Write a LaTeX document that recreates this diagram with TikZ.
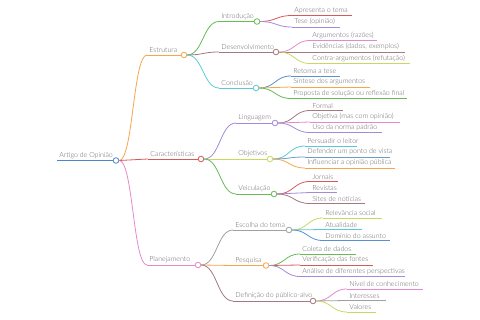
\documentclass[tikz,border=0pt]{standalone}
\usepackage{fontspec}
\setmainfont{Lato}[UprightFont=* Light]
\usepackage{tikz}
\usetikzlibrary{calc}
\definecolor{croot}{HTML}{4A86C8}
\definecolor{corange}{HTML}{F5A54A}
\definecolor{cred}{HTML}{D65A5A}
\definecolor{cpink}{HTML}{E38BC9}
\definecolor{cgreen}{HTML}{66BB55}
\definecolor{cmauve}{HTML}{A27A80}
\definecolor{ccyan}{HTML}{5BC8D8}
\definecolor{cpurple}{HTML}{A48AD8}
\definecolor{clime}{HTML}{C8D860}
\definecolor{cgrey}{HTML}{A0A0A0}
\definecolor{cblue}{HTML}{5A8FD0}
\definecolor{csteel}{HTML}{6A9CC8}
\definecolor{ctext}{HTML}{666666}

\begin{document}
\begin{tikzpicture}[
    x=1pt, y=-1pt,
    line width=0.8pt,
    lbl/.style={anchor=south west, inner sep=0pt, xshift=2pt, yshift=1.6pt,
        text=ctext, font=\fontsize{7}{7}\selectfont},
    dot/.style={circle, draw=#1, fill=white, line width=0.8pt,
        minimum size=5.6pt, inner sep=0pt},
    link/.style={to path={let \p1=(\tikztostart), \p2=(\tikztotarget) in
        .. controls ({(\x1+\x2)/2},\y1) and ({(\x1+\x2)/2},\y2) .. (\tikztotarget)}},
  ]
  \useasboundingbox (0,0) rectangle (480,320);
  % root
  \coordinate (root-s) at (57,160.5);
  \node[dot=croot] (root) at (116,160.5) {};
  \node[lbl] (root-t) at (root-s) {Artigo de Opinião};
  \draw[croot] (root-s) -- (root.west);
  % level 1
  \coordinate (estr-s) at (147,55);
  \node[dot=corange] (estr) at (184,55) {};
  \node[lbl] (estr-t) at (estr-s) {Estrutura};
  \draw[corange] (estr-s) -- (estr.west);
  \draw[corange, link] (root.east) to (estr-s);
  \coordinate (carac-s) at (148,159);
  \node[dot=cred] (carac) at (201,159) {};
  \node[lbl] (carac-t) at (carac-s) {Características};
  \draw[cred] (carac-s) -- (carac.west);
  \draw[cred, link] (root.east) to (carac-s);
  \coordinate (plan-s) at (147,265);
  \node[dot=cpink] (plan) at (198,265) {};
  \node[lbl] (plan-t) at (plan-s) {Planejamento};
  \draw[cpink] (plan-s) -- (plan.west);
  \draw[cpink, link] (root.east) to (plan-s);
  % Estrutura
  \coordinate (intro-s) at (219,21.5);
  \node[dot=cgreen] (intro) at (257,21.5) {};
  \node[lbl] (intro-t) at (intro-s) {Introdução};
  \draw[cgreen] (intro-s) -- (intro.west);
  \draw[cgreen, link] (estr.east) to (intro-s);
  \coordinate (desen-s) at (219,52);
  \node[dot=cmauve] (desen) at (276,52) {};
  \node[lbl] (desen-t) at (desen-s) {Desenvolvimento};
  \draw[cmauve] (desen-s) -- (desen.west);
  \draw[cmauve, link] (estr.east) to (desen-s);
  \coordinate (concl-s) at (219,88);
  \node[dot=ccyan] (concl) at (256,88) {};
  \node[lbl] (concl-t) at (concl-s) {Conclusão};
  \draw[ccyan] (concl-s) -- (concl.west);
  \draw[ccyan, link] (estr.east) to (concl-s);
  % Introducao
  \coordinate (tema-s) at (292,15.5); \coordinate (tema-e) at (352,15.5);
  \node[lbl] (tema) at (tema-s) {Apresenta o tema};
  \draw[cred] (tema-s) -- (tema-e);
  \draw[cred, link] (intro.east) to (tema-s);
  \coordinate (tese-s) at (292,27); \coordinate (tese-e) at (340,27);
  \node[lbl] (tese) at (tese-s) {Tese (opinião)};
  \draw[cpurple] (tese-s) -- (tese-e);
  \draw[cpurple, link] (intro.east) to (tese-s);
  % Desenvolvimento
  \coordinate (argu-s) at (310,40.5); \coordinate (argu-e) at (377,40.5);
  \node[lbl] (argu) at (argu-s) {Argumentos (razões)};
  \draw[cpink] (argu-s) -- (argu-e);
  \draw[cpink, link] (desen.east) to (argu-s);
  \coordinate (evid-s) at (310,52); \coordinate (evid-e) at (405,52);
  \node[lbl] (evid) at (evid-s) {Evidências (dados, exemplos)};
  \draw[cmauve] (evid-s) -- (evid-e);
  \draw[cmauve, link] (desen.east) to (evid-s);
  \coordinate (contra-s) at (310,63.5); \coordinate (contra-e) at (410,63.5);
  \node[lbl] (contra) at (contra-s) {Contra-argumentos (refutação)};
  \draw[clime] (contra-s) -- (contra-e);
  \draw[clime, link] (desen.east) to (contra-s);
  % Conclusao
  \coordinate (retoma-s) at (291,76); \coordinate (retoma-e) at (340,76);
  \node[lbl] (retoma) at (retoma-s) {Retoma a tese};
  \draw[cblue] (retoma-s) -- (retoma-e);
  \draw[cblue, link] (concl.east) to (retoma-s);
  \coordinate (sint-s) at (291,87); \coordinate (sint-e) at (370,87);
  \node[lbl] (sint) at (sint-s) {Síntese dos argumentos};
  \draw[corange] (sint-s) -- (sint-e);
  \draw[corange, link] (concl.east) to (sint-s);
  \coordinate (prop-s) at (291,98.5); \coordinate (prop-e) at (407,98.5);
  \node[lbl] (prop) at (prop-s) {Proposta de solução ou reflexão final};
  \draw[cgreen] (prop-s) -- (prop-e);
  \draw[cgreen, link] (concl.east) to (prop-s);
  % Caracteristicas
  \coordinate (ling-s) at (236,123);
  \node[dot=cpurple] (ling) at (275,123) {};
  \node[lbl] (ling-t) at (ling-s) {Linguagem};
  \draw[cpurple] (ling-s) -- (ling.west);
  \draw[cpurple, link] (carac.east) to (ling-s);
  \coordinate (obj-s) at (236,159);
  \node[dot=clime] (obj) at (270,159) {};
  \node[lbl] (obj-t) at (obj-s) {Objetivos};
  \draw[clime] (obj-s) -- (obj.west);
  \draw[clime, link] (carac.east) to (obj-s);
  \coordinate (veic-s) at (236,194);
  \node[dot=cgreen] (veic) at (274,194) {};
  \node[lbl] (veic-t) at (veic-s) {Veiculação};
  \draw[cgreen] (veic-s) -- (veic.west);
  \draw[cgreen, link] (carac.east) to (veic-s);
  % Linguagem
  \coordinate (formal-s) at (310,110.5); \coordinate (formal-e) at (343,110.5);
  \node[lbl] (formal) at (formal-s) {Formal};
  \draw[cmauve] (formal-s) -- (formal-e);
  \draw[cmauve, link] (ling.east) to (formal-s);
  \coordinate (objet-s) at (310,122); \coordinate (objet-e) at (400,122);
  \node[lbl] (objet) at (objet-s) {Objetiva (mas com opinião)};
  \draw[cpink] (objet-s) -- (objet-e);
  \draw[cpink, link] (ling.east) to (objet-s);
  \coordinate (norma-s) at (310,132.5); \coordinate (norma-e) at (382,132.5);
  \node[lbl] (norma) at (norma-s) {Uso da norma padrão};
  \draw[cpurple] (norma-s) -- (norma-e);
  \draw[cpurple, link] (ling.east) to (norma-s);
  % Objetivos
  \coordinate (pers-s) at (305,146); \coordinate (pers-e) at (357,146);
  \node[lbl] (pers) at (pers-s) {Persuadir o leitor};
  \draw[ccyan] (pers-s) -- (pers-e);
  \draw[ccyan, link] (obj.east) to (pers-s);
  \coordinate (def-s) at (305,157); \coordinate (def-e) at (390,157);
  \node[lbl] (def) at (def-s) {Defender um ponto de vista};
  \draw[csteel] (def-s) -- (def-e);
  \draw[csteel, link] (obj.east) to (def-s);
  \coordinate (infl-s) at (305,168); \coordinate (infl-e) at (395,168);
  \node[lbl] (infl) at (infl-s) {Influenciar a opinião pública};
  \draw[corange] (infl-s) -- (infl-e);
  \draw[corange, link] (obj.east) to (infl-s);
  % Veiculacao
  \coordinate (jorn-s) at (310,181.5); \coordinate (jorn-e) at (338,181.5);
  \node[lbl] (jorn) at (jorn-s) {Jornais};
  \draw[cred] (jorn-s) -- (jorn-e);
  \draw[cred, link] (veic.east) to (jorn-s);
  \coordinate (rev-s) at (310,192.5); \coordinate (rev-e) at (337,192.5);
  \node[lbl] (rev) at (rev-s) {Revistas};
  \draw[cpurple] (rev-s) -- (rev-e);
  \draw[cpurple, link] (veic.east) to (rev-s);
  \coordinate (sites-s) at (310,203.5); \coordinate (sites-e) at (365,203.5);
  \node[lbl] (sites) at (sites-s) {Sites de notícias};
  \draw[cmauve] (sites-s) -- (sites-e);
  \draw[cmauve, link] (veic.east) to (sites-s);
  % Planejamento
  \coordinate (esc-s) at (233,230);
  \node[dot=cgrey] (esc) at (289,230) {};
  \node[lbl] (esc-t) at (esc-s) {Escolha do tema};
  \draw[cgrey] (esc-s) -- (esc.west);
  \draw[cgrey, link] (plan.east) to (esc-s);
  \coordinate (pesq-s) at (233,265.5);
  \node[dot=corange] (pesq) at (266,265.5) {};
  \node[lbl] (pesq-t) at (pesq-s) {Pesquisa};
  \draw[corange] (pesq-s) -- (pesq.west);
  \draw[corange, link] (plan.east) to (pesq-s);
  \coordinate (publ-s) at (233,301);
  \node[dot=cmauve] (publ) at (313,301) {};
  \node[lbl] (publ-t) at (publ-s) {Definição do público-alvo};
  \draw[cmauve] (publ-s) -- (publ.west);
  \draw[cmauve, link] (plan.east) to (publ-s);
  % Escolha do tema
  \coordinate (relev-s) at (323,218); \coordinate (relev-e) at (382,218);
  \node[lbl] (relev) at (relev-s) {Relevância social};
  \draw[clime] (relev-s) -- (relev-e);
  \draw[clime, link] (esc.east) to (relev-s);
  \coordinate (atual-s) at (323,229.5); \coordinate (atual-e) at (362,229.5);
  \node[lbl] (atual) at (atual-s) {Atualidade};
  \draw[ccyan] (atual-s) -- (atual-e);
  \draw[ccyan, link] (esc.east) to (atual-s);
  \coordinate (domin-s) at (323,240.5); \coordinate (domin-e) at (390,240.5);
  \node[lbl] (domin) at (domin-s) {Domínio do assunto};
  \draw[cblue] (domin-s) -- (domin-e);
  \draw[cblue, link] (esc.east) to (domin-s);
  % Pesquisa
  \coordinate (colet-s) at (300,254); \coordinate (colet-e) at (356,254);
  \node[lbl] (colet) at (colet-s) {Coleta de dados};
  \draw[cgreen] (colet-s) -- (colet-e);
  \draw[cgreen, link] (pesq.east) to (colet-s);
  \coordinate (verif-s) at (300,265); \coordinate (verif-e) at (373,265);
  \node[lbl] (verif) at (verif-s) {Verificação das fontes};
  \draw[cred] (verif-s) -- (verif-e);
  \draw[cred, link] (pesq.east) to (verif-s);
  \coordinate (anal-s) at (300,276.5); \coordinate (anal-e) at (405,276.5);
  \node[lbl] (anal) at (anal-s) {Análise de diferentes perspectivas};
  \draw[cpurple] (anal-s) -- (anal-e);
  \draw[cpurple, link] (pesq.east) to (anal-s);
  % Definicao do publico-alvo
  \coordinate (nivel-s) at (347,289); \coordinate (nivel-e) at (423,289);
  \node[lbl] (nivel) at (nivel-s) {Nível de conhecimento};
  \draw[cpink] (nivel-s) -- (nivel-e);
  \draw[cpink, link] (publ.east) to (nivel-s);
  \coordinate (inter-s) at (347,300.5); \coordinate (inter-e) at (386,300.5);
  \node[lbl] (inter) at (inter-s) {Interesses};
  \draw[cgrey] (inter-s) -- (inter-e);
  \draw[cgrey, link] (publ.east) to (inter-s);
  \coordinate (valor-s) at (347,312); \coordinate (valor-e) at (376,312);
  \node[lbl] (valor) at (valor-s) {Valores};
  \draw[clime] (valor-s) -- (valor-e);
  \draw[clime, link] (publ.east) to (valor-s);
\end{tikzpicture}
\end{document}
